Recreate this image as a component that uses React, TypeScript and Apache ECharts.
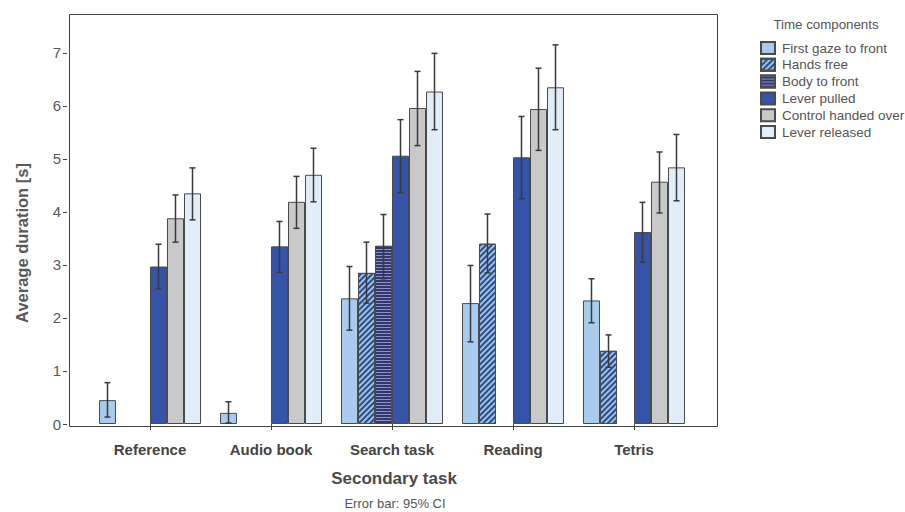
import React, { useEffect, useRef } from "react";
import * as echarts from "echarts";

const categories = ["Reference", "Audio book", "Search task", "Reading", "Tetris"];
const seriesNames = [
  "First gaze to front",
  "Hands free",
  "Body to front",
  "Lever pulled",
  "Control handed over",
  "Lever released",
];

const firstGaze = [0.45, 0.21, 2.37, 2.28, 2.33];
const firstGazeLow = [0.13, 0.02, 1.77, 1.55, 1.91];
const firstGazeHigh = [0.78, 0.42, 2.97, 2.99, 2.74];

const handsFree = [null, null, 2.85, 3.4, 1.38];
const handsFreeLow = [null, null, 2.28, 2.85, 1.07];
const handsFreeHigh = [null, null, 3.43, 3.96, 1.68];

const bodyToFront = [null, null, 3.36, null, null];
const bodyToFrontLow = [null, null, 2.74, null, null];
const bodyToFrontHigh = [null, null, 3.95, null, null];

const leverPulled = [2.97, 3.35, 5.06, 5.03, 3.62];
const leverPulledLow = [2.55, 2.86, 4.36, 4.25, 3.05];
const leverPulledHigh = [3.39, 3.82, 5.74, 5.8, 4.18];

const controlHanded = [3.88, 4.19, 5.96, 5.94, 4.57];
const controlHandedLow = [3.43, 3.69, 5.25, 5.16, 3.98];
const controlHandedHigh = [4.32, 4.67, 6.65, 6.71, 5.13];

const leverReleased = [4.35, 4.7, 6.27, 6.35, 4.84];
const leverReleasedLow = [3.85, 4.19, 5.55, 5.55, 4.21];
const leverReleasedHigh = [4.83, 5.2, 6.99, 7.15, 5.46];

const yTicks = [0, 1, 2, 3, 4, 5, 6, 7];

const allValues = [firstGaze, handsFree, bodyToFront, leverPulled, controlHanded, leverReleased];
const allLow = [firstGazeLow, handsFreeLow, bodyToFrontLow, leverPulledLow, controlHandedLow, leverReleasedLow];
const allHigh = [firstGazeHigh, handsFreeHigh, bodyToFrontHigh, leverPulledHigh, controlHandedHigh, leverReleasedHigh];

const FONT = "Liberation Sans, Arial, sans-serif";
const BAR_W = 17;

export default function App() {
  const ref = useRef<HTMLDivElement>(null);
  useEffect(() => {
    if (!ref.current) return;
    const chart = echarts.init(ref.current, null, { renderer: "svg" });

    const styles: any[] = [
      { color: "#a8cbee" },
      {
        color: "#9cc0e6",
        decal: {
          symbol: "rect",
          symbolSize: 1,
          color: "#2c4c86",
          dashArrayX: [1, 0],
          dashArrayY: [2, 2],
          rotation: -Math.PI / 4,
        },
      },
      {
        color: "#33376e",
        decal: {
          symbol: "rect",
          symbolSize: 1,
          color: "#8d92c6",
          dashArrayX: [1, 0],
          dashArrayY: [1, 2],
          rotation: 0,
        },
      },
      { color: "#3553a8" },
      { color: "#c9c9c9" },
      { color: "#e1edf9" },
    ];

    const barSeries = seriesNames.map((name, i) => ({
      name,
      type: "bar",
      data: allValues[i].map((v) => (v === null ? "-" : v)),
      barWidth: BAR_W,
      barGap: "0%",
      itemStyle: { ...styles[i], borderColor: "#4a4a4a", borderWidth: 1 },
      emphasis: { disabled: true },
    }));

    const errData: any[] = [];
    allValues.forEach((vals, si) => {
      vals.forEach((v, ci) => {
        if (v !== null && allLow[si][ci] !== null) {
          errData.push([ci, si, allLow[si][ci], allHigh[si][ci]]);
        }
      });
    });

    const errorSeries = {
      type: "custom",
      name: "errors",
      data: errData,
      encode: { x: 0, y: [2, 3] },
      z: 10,
      renderItem: (params: any, api: any) => {
        const ci = api.value(0);
        const si = api.value(1);
        const lo = api.coord([ci, api.value(2)]);
        const hi = api.coord([ci, api.value(3)]);
        const x = lo[0] + (si - 2.5) * BAR_W;
        const cap = 3;
        const st = { stroke: "#3a3a3a", lineWidth: 1.5 };
        return {
          type: "group",
          children: [
            { type: "line", shape: { x1: x, y1: lo[1], x2: x, y2: hi[1] }, style: st },
            { type: "line", shape: { x1: x - cap, y1: lo[1], x2: x + cap, y2: lo[1] }, style: st },
            { type: "line", shape: { x1: x - cap, y1: hi[1], x2: x + cap, y2: hi[1] }, style: st },
          ],
        };
      },
    };

    chart.setOption({
      animation: false,
      textStyle: { fontFamily: FONT },
      grid: { left: 89.5, width: 605, top: 12, bottom: 88 },
      legend: {
        data: seriesNames,
        orient: "vertical",
        left: 755,
        top: 36,
        padding: 5,
        itemWidth: 14,
        itemHeight: 12,
        itemGap: 2.8,
        selectedMode: false,
        icon: "rect",
        textStyle: { color: "#555555", fontSize: 13.5, fontFamily: FONT, lineHeight: 13, padding: [0, 0, 0, 2] },
      },
      xAxis: {
        type: "category",
        data: categories,
        axisLine: { show: false },
        axisTick: { show: true, alignWithLabel: true, length: 6, lineStyle: { color: "#444444" } },
        axisLabel: { color: "#444444", fontSize: 15, fontWeight: "bold", margin: 18, fontFamily: FONT },
      },
      yAxis: {
        type: "value",
        min: 0,
        max: 7.77,
        interval: 1,
        offset: 22.5,
        splitLine: { show: false },
        axisLine: { show: false },
        axisTick: { show: true, length: 4, customValues: yTicks, lineStyle: { color: "#444444" } },
        axisLabel: { color: "#595959", fontSize: 15, margin: 6, customValues: yTicks, fontFamily: FONT },
      },
      graphic: [
        {
          type: "rect",
          left: 67,
          top: 12,
          shape: { width: 648, height: 412 },
          style: { fill: "none", stroke: "#444444", lineWidth: 1 },
          z: 100,
          silent: true,
        },
        {
          type: "text",
          x: 22,
          y: 243,
          rotation: Math.PI / 2,
          style: {
            text: "Average duration [s]",
            fill: "#595959",
            font: "bold 16.5px " + FONT,
            align: "center",
            verticalAlign: "middle",
          },
        },
        {
          type: "text",
          x: 394,
          y: 478,
          style: {
            text: "Secondary task",
            fill: "#4a4a4a",
            font: "bold 17px " + FONT,
            align: "center",
            verticalAlign: "middle",
          },
        },
        {
          type: "text",
          x: 395,
          y: 503,
          style: {
            text: "Error bar: 95% CI",
            fill: "#555555",
            font: "13px " + FONT,
            align: "center",
            verticalAlign: "middle",
          },
        },
        {
          type: "text",
          x: 826,
          y: 24,
          style: {
            text: "Time components",
            fill: "#555555",
            font: "13.3px " + FONT,
            align: "center",
            verticalAlign: "middle",
          },
        },
      ],
      series: [...barSeries, errorSeries],
    });

    return () => chart.dispose();
  }, []);

  return <div ref={ref} style={{ width: 905, height: 512, position: "absolute", left: 0, top: 0 }} />;
}
